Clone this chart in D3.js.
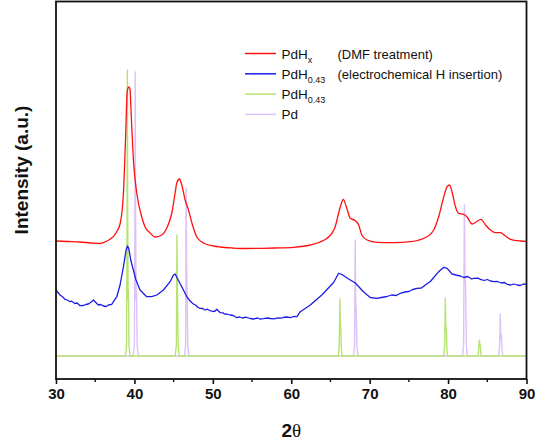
<!DOCTYPE html>
<html>
<head>
<meta charset="utf-8">
<script src="https://cdn.jsdelivr.net/npm/d3@7"></script>
<style>
  html, body { margin: 0; padding: 0; background: #fff; }
  svg { display: block; font-family: Arial, "Liberation Sans", sans-serif; }
</style>
</head>
<body>
<svg id="chart" width="535" height="448"></svg>
<script>
// XRD patterns: [2θ (deg), intensity (a.u., offset per trace)]
const pdhxDmf = [
  [30.0,138],[31.5,137.5],[33.0,137],[34.5,136],[35.6,135.5],[36.5,138],[37.3,142.3],[37.8,148],
  [38.2,156],[38.6,186],[38.85,236],[39.1,289],[39.3,292],[39.45,289],[39.53,276],[39.66,252],
  [39.87,219],[40.3,186],[40.94,162],[41.36,152],[42.0,146],[42.64,142],[43.49,144],[44.13,151],
  [44.77,166],[45.19,186],[45.4,196],[45.74,200],[46.04,194],[46.47,179],[46.9,169],[47.33,156],
  [47.96,142],[48.8,136],[50.08,133],[50.93,132],[52.5,131],[54.0,130.5],[56.04,130.7],[58.0,131],
  [60.3,131.7],[62.4,134],[64.56,140.7],[65.6,152.3],[66.26,172.3],[66.64,179.7],[67.02,172.3],
  [67.53,160.7],[68.17,158.3],[68.6,154],[69.0,144],[69.67,139],[70.94,136.7],[73.06,136.3],
  [75.2,137.3],[77.3,142.3],[78.17,149],[78.8,162.3],[79.45,182.3],[79.88,192.3],[80.17,194],
  [80.5,187.3],[80.94,172.3],[81.36,165.7],[82.0,164.7],[82.4,162.3],[83.07,155],[83.6,157.3],
  [84.2,159.7],[84.77,154],[85.4,149],[86.04,146.3],[86.68,146.3],[87.32,143],[87.96,139.7],
  [89.24,138],[90.0,137.7]
];

const pdh043Electro = [
  [30.0,89],[30.25,86.5],[30.51,84],[30.8,82.5],[31.15,79.7],[31.45,79],[31.79,77.3],[32.0,77.8],
  [32.4,75.5],[32.7,76],[33.06,73.3],[33.5,73.5],[33.8,74.5],[34.12,75],[34.55,77.3],[34.77,79],
  [34.98,77.3],[35.4,74],[35.7,74.5],[36.04,73],[36.4,72.5],[36.7,74],[37.1,74.7],[37.75,82.3],
  [38.17,94],[38.6,112.3],[38.94,129],[39.11,133],[39.28,130.7],[39.53,119],[39.87,109],[40.2,99],
  [40.72,89],[41.57,82.3],[42.2,82.3],[42.86,84],[43.7,89],[44.55,97.3],[44.98,104],[45.2,105],
  [45.4,101.7],[46.04,92.3],[46.68,82.3],[47.0,79],[47.3,76.5],[47.53,75],[47.8,74],[48.1,71.5],
  [48.38,70.7],[48.7,70.5],[49.0,69],[49.3,69.8],[49.66,68.3],[50.0,67.5],[50.3,68],[50.5,69.7],
  [50.94,66.3],[51.3,66.2],[51.5,64.8],[51.79,65],[52.2,64],[52.6,63.5],[53.07,61.3],[53.4,62],
  [53.8,61],[54.2,61.8],[54.77,60.5],[55.2,60],[55.7,61],[56.0,60],[56.47,60.3],[57.0,61],
  [57.32,60.5],[57.8,60.2],[58.3,61.2],[58.7,60.8],[59.0,61.5],[59.4,62],[59.9,61.3],[60.3,62.5],
  [60.73,62.3],[61.15,67.3],[62.43,74],[63.9,84],[65.4,96.5],[66.04,105.7],[66.47,104.5],
  [67.32,100],[68.17,96],[69.23,87],[70.08,81.5],[70.94,80.7],[71.5,81.5],[72.2,82.5],[72.8,84],
  [73.4,83.5],[73.9,85.7],[74.5,87],[75.0,87.5],[75.5,89.5],[76.04,90.7],[76.6,91],[77.1,94],
  [77.74,97.5],[78.8,107.3],[79.45,111.7],[79.88,110.7],[80.5,105],[81.0,104],[81.57,103],
  [82.0,101.5],[82.5,102.5],[83.0,100],[83.27,100.7],[83.8,100.8],[84.13,99.7],[84.6,98.5],
  [85.0,99.5],[85.4,98],[85.83,97.3],[86.3,97.5],[86.8,96],[87.2,96.5],[87.53,94.7],[88.0,94],
  [88.4,95],[88.8,94],[89.2,93.5],[89.6,95],[90.0,94.7]
];

// Reference patterns
const pdh043Ref = [
  [30,23],[38.85,23],[39.0,34],[39.07,179],[39.1,309],[39.14,169],[39.2,79],[39.24,89],[39.3,34],[39.45,23],
  [45.2,23],[45.35,34],[45.42,144],[45.48,89],[45.53,64],[45.58,34],[45.7,23],
  [66.0,23],[66.12,34],[66.2,80],[66.26,54],[66.32,51],[66.4,29],[66.5,23],
  [79.45,23],[79.57,34],[79.65,81],[79.7,54],[79.78,49],[79.85,29],[79.95,23],
  [83.85,23],[83.93,34],[84.0,39],[84.06,32],[84.12,34],[84.2,23],[90,23]
];

const pdRef = [
  [30,23],[39.85,23],[40.0,34],[40.07,179],[40.1,307],[40.15,164],[40.22,79],[40.27,87],[40.35,34],[40.5,23],
  [46.4,23],[46.53,34],[46.6,191],[46.66,109],[46.72,89],[46.8,34],[46.95,23],
  [67.95,23],[68.08,34],[68.15,139],[68.21,79],[68.28,69],[68.37,34],[68.5,23],
  [81.85,23],[81.98,34],[82.08,174],[82.15,104],[82.23,94],[82.33,34],[82.45,23],
  [86.45,23],[86.58,34],[86.65,65],[86.72,39],[86.8,44],[86.88,29],[87.0,23],[90,23]
];

const xTicks = [30, 40, 50, 60, 70, 80, 90];
const xMinorTicks = [35, 45, 55, 65, 75, 85];

const seriesNames = ["PdH", "PdH", "PdH", "Pd"];
const seriesSubs = ["x", "0.43", "0.43", ""];
const seriesNotes = ["(DMF treatment)", "(electrochemical H insertion)", "", ""];
const seriesColors = ["#ff1010", "#1c1ce6", "#b6e472", "#dcc2f6"];

const svg = d3.select("#chart");
const plotLeft = 56, plotRight = 526.5, plotTop = 1.5, plotBottom = 379;

const x = d3.scaleLinear().domain([30, 90]).range([plotLeft, plotRight]);
const y = d3.scaleLinear().domain([0, 377.5]).range([plotBottom, plotTop]);

const lineSmooth = d3.line().x(d => x(d[0])).y(d => y(d[1])).curve(d3.curveMonotoneX);
const lineRaw = d3.line().x(d => x(d[0])).y(d => y(d[1]));

const plot = svg.append("g");
const traces = [
  { data: pdRef, color: seriesColors[3], w: 1.4, gen: lineRaw },
  { data: pdh043Ref, color: seriesColors[2], w: 1.4, gen: lineRaw },
  { data: pdh043Electro, color: seriesColors[1], w: 1.3, gen: lineRaw },
  { data: pdhxDmf, color: seriesColors[0], w: 1.3, gen: lineSmooth }
];
plot.selectAll("path.trace")
  .data(traces)
  .join("path")
  .attr("class", "trace")
  .attr("fill", "none")
  .attr("stroke", d => d.color)
  .attr("stroke-width", d => d.w)
  .attr("stroke-linejoin", "round")
  .attr("d", d => d.gen(d.data));

// frame
svg.append("rect")
  .attr("x", plotLeft).attr("y", plotTop)
  .attr("width", plotRight - plotLeft).attr("height", plotBottom - plotTop)
  .attr("fill", "none").attr("stroke", "#111").attr("stroke-width", 1.8);

// bottom axis
const xAxis = d3.axisBottom(x).tickValues(xTicks).tickSize(5).tickSizeOuter(0).tickPadding(4);
const gx = svg.append("g").attr("transform", `translate(0,${plotBottom})`).call(xAxis);
gx.select(".domain").remove();
gx.selectAll(".tick line").attr("stroke", "#111").attr("stroke-width", 1.6);
gx.selectAll(".tick text")
  .attr("font-family", "Arial, 'Liberation Sans', sans-serif")
  .attr("font-size", 15).attr("font-weight", "bold").attr("fill", "#111");

svg.append("g").selectAll("line")
  .data(xMinorTicks)
  .join("line")
  .attr("x1", d => x(d)).attr("x2", d => x(d))
  .attr("y1", plotBottom).attr("y2", plotBottom + 3)
  .attr("stroke", "#111").attr("stroke-width", 1.4);

// axis titles
const xt = svg.append("text")
  .attr("x", (plotLeft + plotRight) / 2).attr("y", 437)
  .attr("text-anchor", "middle")
  .attr("font-size", 19).attr("font-weight", "bold").attr("fill", "#111");
xt.append("tspan").text("2");
xt.append("tspan").attr("font-family", "'Liberation Serif', 'DejaVu Serif', serif").attr("font-weight", "normal").text("θ");

svg.append("text")
  .attr("transform", "translate(28,170) rotate(-90)")
  .attr("text-anchor", "middle")
  .attr("font-size", 19).attr("font-weight", "bold").attr("fill", "#111")
  .text("Intensity (a.u.)");

// legend
const legend = svg.append("g");
const rows = legend.selectAll("g")
  .data(seriesNames.map((n, i) => ({ n, sub: seriesSubs[i], note: seriesNotes[i], color: seriesColors[i], i })))
  .join("g")
  .attr("transform", d => `translate(245,${53.5 + d.i * 20.3})`);
rows.append("line")
  .attr("x1", 0).attr("x2", 31)
  .attr("stroke", d => d.color).attr("stroke-width", 1.5);
const lt = rows.append("text")
  .attr("x", 36.5).attr("y", 5)
  .attr("font-size", 13.5).attr("fill", "#111");
lt.append("tspan").text(d => d.n);
lt.append("tspan").attr("font-size", 9).attr("dy", 4).text(d => d.sub);
rows.append("text")
  .attr("x", 92.5).attr("y", 5)
  .attr("font-size", 13).attr("fill", "#111")
  .text(d => d.note);
</script>
</body>
</html>
